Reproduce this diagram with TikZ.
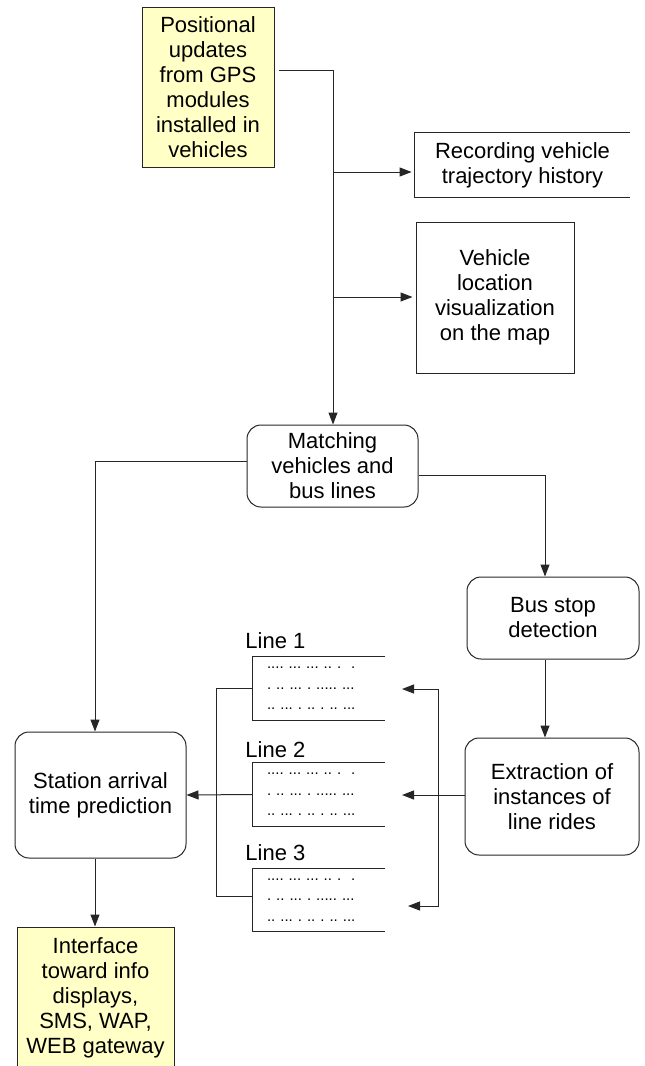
\documentclass[tikz,border=0pt]{standalone}
\usepackage{fontspec}
\setmainfont{Liberation Sans}
\usetikzlibrary{arrows.meta}
\definecolor{noteyellow}{RGB}{255,255,198}
\tikzstyle{pline}=[draw=black!85,line width=0.5pt]
\tikzstyle{pbox}=[pline,align=center,inner sep=0pt]
\tikzstyle{ybox}=[pbox,fill=noteyellow]
\tikzstyle{rbox}=[pbox,rounded corners=7pt]
\tikzstyle{obox}=[align=center,inner sep=0pt]
\tikzstyle{doc}=[align=left,inner xsep=7pt,inner ysep=0pt,text width=52pt,minimum height=31.5pt,font={\fontsize{7.5}{10.25}\selectfont\frenchspacing\spaceskip=3.4pt\xspaceskip=3.4pt\relax}]
\tikzstyle{flow}=[->,pline]
\newcommand{\docrows}{.... ... ... .. .\hspace{5pt}.\\. .. ... . ..... ...\\.. ... . .. . .. ...}

\begin{document}
\begin{tikzpicture}[x=0.5pt,y=-0.5pt,>={Triangle[length=6pt,width=4.5pt]},font=\fontsize{11}{12.5}\selectfont]
\useasboundingbox (0,0) rectangle (644,1066);
% boxes
\node[ybox,minimum width=66pt,minimum height=80pt] (gps) at (208,87) {Positional\\updates\\from GPS\\modules\\installed in\\vehicles};
\node[obox,minimum width=107.5pt,minimum height=32pt] (rec) at (522.5,165) {Recording vehicle\\trajectory history};
\node[pbox,minimum width=79pt,minimum height=75.5pt] (vis) at (495,297.5) {Vehicle\\location\\visualization\\on the map};
\node[rbox,minimum width=85.5pt,minimum height=41pt] (match) at (332.5,466) {Matching\\vehicles and\\bus lines};
\node[rbox,minimum width=86pt,minimum height=41pt] (bus) at (553,618) {Bus stop\\detection};
\node[rbox,minimum width=87pt,minimum height=58.5pt] (ext) at (552,796.5) {Extraction of\\instances of\\line rides};
\node[rbox,minimum width=85.5pt,minimum height=63pt] (station) at (100.5,795) {Station arrival\\time prediction};
\node[ybox,minimum width=78.5pt,minimum height=71pt] (iface) at (95.5,998) {Interface\\toward info\\displays,\\SMS, WAP,\\WEB gateway};
% line documents
\node[doc] (l1) at (319,688.5) {\docrows};
\node[doc] (l2) at (319,794.5) {\docrows};
\node[doc] (l3) at (319,900) {\docrows};
\node[anchor=west,inner sep=0pt] (lab1) at (245,641) {Line 1};
\node[anchor=west,inner sep=0pt] (lab2) at (245,750) {Line 2};
\node[anchor=west,inner sep=0pt] (lab3) at (245,853) {Line 3};
\foreach \n in {l1,l2,l3,rec}
  \draw[pline] (\n.north east) -- (\n.north west) -- (\n.south west) -- (\n.south east);
% junctions
\coordinate (g1) at (279,70);
\coordinate (j1) at (333,70);
\coordinate (b1) at (333,172);
\coordinate (b2) at (333,297);
\coordinate (m1) at (95,461);
\coordinate (m2) at (545,475);
\coordinate (c1) at (216,689);
\coordinate (c3) at (216,896);
\coordinate (k1) at (438,689);
\coordinate (k3) at (438,906);
\coordinate (t1) at (402,689);
\coordinate (t2) at (402,795);
\coordinate (t3) at (408,906);
% connectors
\draw[flow] (g1) -- (j1) -- (j1 |- match.north);
\draw[flow,shorten >=1.5pt] (b1) -- (rec.west |- b1);
\draw[flow,shorten >=1.5pt] (b2) -- (vis.west |- b2);
\draw[flow] (match.west |- m1) -- (m1) -- (m1 |- station.north);
\draw[flow] (match.east |- m2) -- (m2) -- (m2 |- bus.north);
\draw[flow] (m2 |- bus.south) -- (m2 |- ext.north);
\draw[flow] (ext.west |- t2) -- (t2);
\draw[pline,<->] (t1) -- (k1) -- (k3) -- (t3);
\draw[pline] (l1.west) -- (l1.west -| c1) -- (c3) -- (l3.west |- c3);
\draw[flow] (l2.west) -- (station.east);
\draw[flow] (m1 |- station.south) -- (m1 |- iface.north);
\end{tikzpicture}
\end{document}
